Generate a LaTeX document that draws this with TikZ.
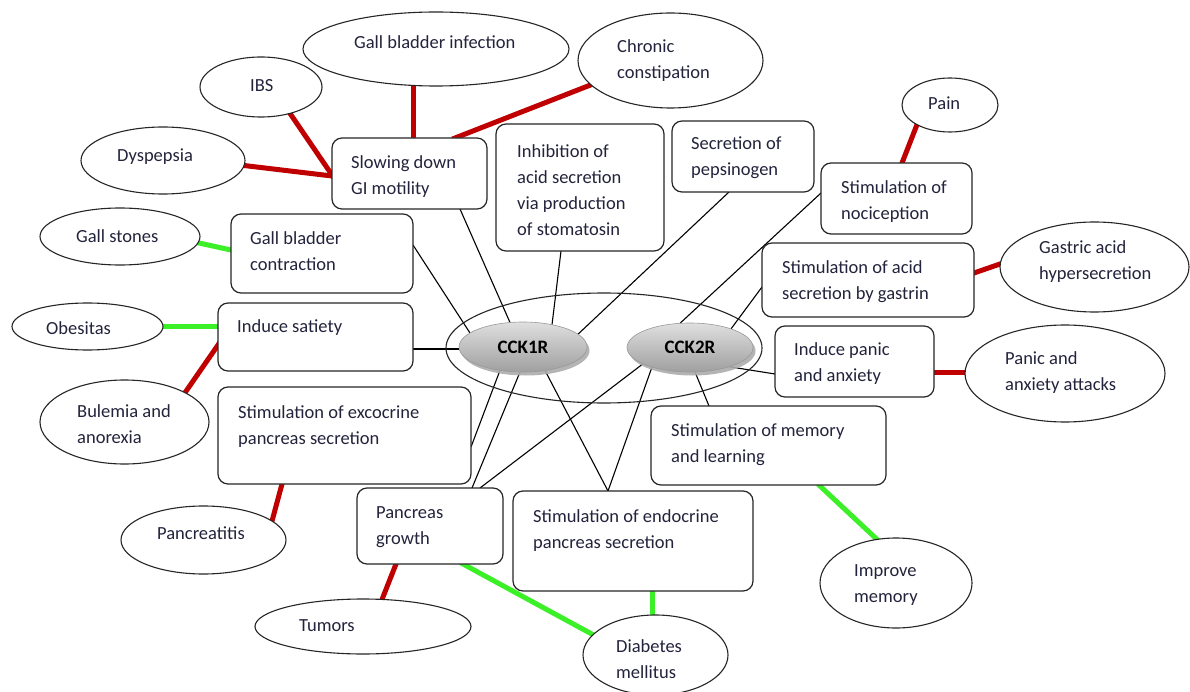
\documentclass[tikz,border=0pt]{standalone}
\usepackage{fontspec}
\setmainfont{Carlito}
\usetikzlibrary{calc,shapes.geometric,shadows}
\definecolor{txtc}{RGB}{35,35,60}
\definecolor{redl}{RGB}{192,0,0}
\definecolor{grnl}{RGB}{60,240,40}
\pgfdeclarelayer{bg}
\pgfdeclarelayer{lines}
\pgfsetlayers{bg,lines,main}
\begin{document}
\begin{tikzpicture}[x=1pt,y=-1pt,
  box/.style={draw=black!85, line width=1.2pt, rounded corners=10pt, fill=white, inner sep=0pt},
  oval/.style={draw=black!85, line width=1.1pt, ellipse, fill=white, inner sep=0pt},
  txt/.style={font=\fontsize{18.5}{26}\selectfont, text=txtc, align=left, inner sep=0pt, anchor=west, yshift=-4pt,
    execute at begin node=\strut, execute at end node=\strut},
  one/.style={txt, yshift=3pt},
  rec/.style={draw=gray!80, line width=0.6pt, ellipse, inner sep=0pt, top color=gray!25, bottom color=gray!75,
    drop shadow={shadow xshift=2.5pt, shadow yshift=-3.5pt, fill=gray!65, opacity=0.9},
    font=\bfseries\fontsize{19}{26}\selectfont, text=black},
  thinc/.style={line width=1.1pt, black},
  redc/.style={line width=5pt, redl, shorten <=-3pt, shorten >=-3pt},
  grnc/.style={line width=5pt, grnl, shorten <=-3pt, shorten >=-3pt},
]
\useasboundingbox (0,0) rectangle (1190,692);
\begin{pgfonlayer}{bg}
\fill[white] (0,0) rectangle (1190,692);
\end{pgfonlayer}

% central receptor group
\node[draw=black!85, line width=1.1pt, ellipse, minimum width=316pt, minimum height=110pt, inner sep=0pt] (big) at (604,348) {};
\node[rec, minimum width=128pt, minimum height=50pt] (c1) at (523,347) {CCK1R};
\node[rec, minimum width=126pt, minimum height=49pt] (c2) at (690,347.5) {CCK2R};

% effect boxes
\node[box, minimum width=155pt, minimum height=71pt] (slow) at (409.5,173.5) {};
\node[box, minimum width=182pt, minimum height=79pt] (gbc) at (322,253.5) {};
\node[box, minimum width=168pt, minimum height=127pt] (inhib) at (580,187.5) {};
\node[box, minimum width=142pt, minimum height=71pt] (peps) at (743,156.5) {};
\node[box, minimum width=151pt, minimum height=71pt] (noci) at (896.5,198.5) {};
\node[box, minimum width=212pt, minimum height=74pt] (gast) at (868,280) {};
\node[box, minimum width=195pt, minimum height=68pt] (sat) at (315.5,337) {};
\node[box, minimum width=253pt, minimum height=97pt] (exo) at (344.5,435.5) {};
\node[box, minimum width=146pt, minimum height=76pt] (pgrow) at (430,526) {};
\node[box, minimum width=240pt, minimum height=100pt] (endo) at (633,541) {};
\node[box, minimum width=235pt, minimum height=79pt] (mem) at (768.5,445.5) {};
\node[box, minimum width=159pt, minimum height=71pt] (panic) at (854.5,361.5) {};

% outcome ellipses
\node[oval, minimum width=266pt, minimum height=74pt] (gbi) at (436,49) {};
\node[oval, minimum width=185pt, minimum height=95pt] (chron) at (670.5,60.5) {};
\node[oval, minimum width=122pt, minimum height=60pt] (ibs) at (261,87) {};
\node[oval, minimum width=164pt, minimum height=67pt] (dys) at (163,160.5) {};
\node[oval, minimum width=96pt, minimum height=54pt] (pain) at (950,105) {};
\node[oval, minimum width=189pt, minimum height=90pt] (gastE) at (1094.5,267) {};
\node[oval, minimum width=160pt, minimum height=57pt] (gst) at (120,236.5) {};
\node[oval, minimum width=151pt, minimum height=47pt] (obes) at (87.5,326.5) {};
\node[oval, minimum width=169pt, minimum height=84pt] (bul) at (124.5,422) {};
\node[oval, minimum width=165pt, minimum height=68pt] (panc) at (203.5,540) {};
\node[oval, minimum width=216pt, minimum height=55pt] (tum) at (363,626.5) {};
\node[oval, minimum width=145pt, minimum height=80pt] (diab) at (655.5,655) {};
\node[oval, minimum width=152pt, minimum height=90pt] (impr) at (896,583) {};
\node[oval, minimum width=200pt, minimum height=97pt] (panicE) at (1065,373.5) {};

% texts of boxes
\node[txt] (slowT) at (351,175) {Slowing down\\GI motility};
\node[txt] (gbcT) at (250,251) {Gall bladder\\contraction};
\node[txt] (inhibT) at (517,189.5) {Inhibition of\\acid secretion\\via production\\of stomatosin};
\node[txt] (pepsT) at (691,156) {Secretion of\\pepsinogen};
\node[txt] (nociT) at (841,200) {Stimulation of\\nociception};
\node[txt] (gastT) at (782,280) {Stimulation of acid\\secretion by gastrin};
\node[one] (satT) at (237,326) {Induce satiety};
\node[txt] (exoT) at (238,425) {Stimulation of excocrine\\pancreas secretion};
\node[txt] (pgrowT) at (376,525) {Pancreas\\growth};
\node[txt] (endoT) at (533,529) {Stimulation of endocrine\\pancreas secretion};
\node[txt] (memT) at (671,442.5) {Stimulation of memory\\and learning};
\node[txt] (panicT) at (794,362) {Induce panic\\and anxiety};

% texts of ellipses
\node[one] (gbiT) at (354,42) {Gall bladder infection};
\node[txt] (chronT) at (617,58.5) {Chronic\\constipation};
\node[one] (ibsT) at (250,85) {IBS};
\node[one] (dysT) at (117,155) {Dyspepsia};
\node[one] (painT) at (928,103) {Pain};
\node[txt] (gastET) at (1039,260) {Gastric acid\\hypersecretion};
\node[one] (gstT) at (76,236) {Gall stones};
\node[one] (obesT) at (46,328) {Obesitas};
\node[txt] (bulT) at (77,424) {Bulemia and\\anorexia};
\node[one] (pancT) at (157,533) {Pancreatitis};
\node[one] (tumT) at (299,625) {Tumors};
\node[txt] (diabT) at (616,659) {Diabetes\\mellitus};
\node[txt] (imprT) at (854,583) {Improve\\memory};
\node[txt] (panicET) at (1005,371) {Panic and\\anxiety attacks};

\begin{pgfonlayer}{lines}
% receptor links
\draw[thinc] ($(c1)+(-13,-24.5)$) -- ($(slow)+(50.5,35.5)$);
\draw[thinc] ($(c1)+(-53,-14)$) -- ($(gbc)+(91,-8.5)$);
\draw[thinc] ($(c1)+(29,-22.3)$) -- ($(inhib)+(-19,63.5)$);
\draw[thinc] ($(c1)+(55,-12.8)$) -- ($(peps)+(-14,35.5)$);
\draw[thinc] ($(c1)+(-64,2)$) -- ($(sat)+(97.5,12)$);
\draw[thinc] ($(c1)+(-23,23.3)$) -- ($(exo)+(126.5,11.5)$);
\draw[thinc] ($(c1)+(-3,25)$) -- ($(pgrow)+(42,-38)$);
\draw[thinc] ($(c1)+(22,23.5)$) -- ($(endo)+(-25,-50)$);
\draw[thinc] ($(c2)+(-47,16.3)$) -- ($(pgrow)+(50,-38)$);
\draw[thinc] ($(c2)+(-38,19.5)$) -- ($(endo)+(-25,-50)$);
\draw[thinc] ($(c2)+(5,24.5)$) -- ($(mem)+(-59.5,-39.5)$);
\draw[thinc] ($(c2)+(39,19.2)$) -- ($(panic)+(-79.5,12.5)$);
\draw[thinc] ($(c2)+(41,-18.6)$) -- ($(gast)+(-106,7)$);
\draw[thinc] ($(c2)+(-10,-24.2)$) -- ($(noci)+(-75.5,-5.5)$);
% inhibiting / pathological links
\draw[redc] ($(ibs)+(29,26.4)$) -- ($(slow)+(-77.5,1.5)$);
\draw[redc] ($(dys)+(81,5)$) -- ($(slow)+(-77.5,2.5)$);
\draw[redc] ($(gbi)+(-23,36.4)$) -- ($(slow)+(3.5,-35.5)$);
\draw[redc] ($(chron)+(-79.5,24.3)$) -- ($(slow)+(45.5,-35.5)$);
\draw[redc] ($(pain)+(-33,19.6)$) -- ($(noci)+(5.5,-35.5)$);
\draw[redc] ($(gastE)+(-94.5,-3)$) -- ($(gast)+(106,-7)$);
\draw[redc] ($(panicE)+(-100,-1.5)$) -- ($(panic)+(79.5,10.5)$);
\draw[redc] ($(sat)+(-97.5,8)$) -- ($(bul)+(60.5,-29.3)$);
\draw[redc] ($(exo)+(-62.5,48.5)$) -- ($(panc)+(68.5,-18.9)$);
\draw[redc] ($(pgrow)+(-34,38)$) -- ($(tum)+(19,-27)$);
% beneficial links
\draw[grnc] ($(gst)+(78,6.3)$) -- ($(gbc)+(-91,-3.5)$);
\draw[grnc] ($(obes)+(75.5,-0.5)$) -- ($(sat)+(-97.5,-11)$);
\draw[grnc] ($(pgrow)+(33,38)$) -- ($(diab)+(-62.5,-20.3)$);
\draw[grnc] ($(endo)+(19,50)$) -- ($(diab)+(-3.5,-40)$);
\draw[grnc] ($(mem)+(51.5,40.5)$) -- ($(impr)+(-19,-43.6)$);
\end{pgfonlayer}
\end{tikzpicture}
\end{document}
